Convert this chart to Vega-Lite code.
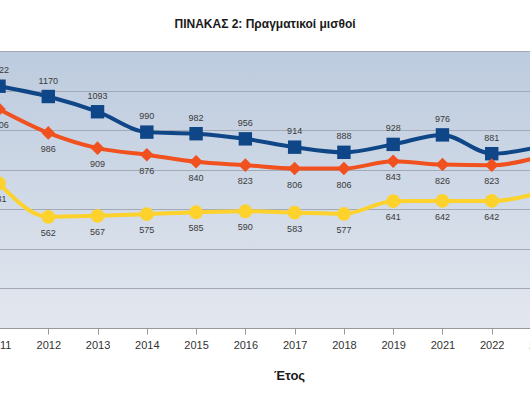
{
  "$schema": "https://vega.github.io/schema/vega-lite/v6.json",
  "width": 530,
  "height": 277,
  "autosize": {"type": "none"},
  "padding": {"left": 0, "top": 51, "right": 0, "bottom": 71},
  "background": "white",
  "title": {
    "text": "ΠΙΝΑΚΑΣ 2: Πραγματικοί μισθοί",
    "font": "Liberation Sans",
    "fontSize": 12,
    "fontWeight": "bold",
    "color": "#1a1a1a",
    "anchor": "middle",
    "offset": 20
  },
  "config": {
    "view": {
      "stroke": null,
      "fill": {
        "gradient": "linear",
        "x1": 0, "y1": 0, "x2": 0, "y2": 1,
        "stops": [
          {"offset": 0, "color": "#bccbde"},
          {"offset": 1, "color": "#e3e7ef"}
        ]
      }
    },
    "font": "Liberation Sans"
  },
  "data": {
    "values": [
      {"Year": "2011", "Series": "Μέσος", "Value": 1222},
      {"Year": "2012", "Series": "Μέσος", "Value": 1170},
      {"Year": "2013", "Series": "Μέσος", "Value": 1093},
      {"Year": "2014", "Series": "Μέσος", "Value": 990},
      {"Year": "2015", "Series": "Μέσος", "Value": 982},
      {"Year": "2016", "Series": "Μέσος", "Value": 956},
      {"Year": "2017", "Series": "Μέσος", "Value": 914},
      {"Year": "2018", "Series": "Μέσος", "Value": 888},
      {"Year": "2019", "Series": "Μέσος", "Value": 928},
      {"Year": "2021", "Series": "Μέσος", "Value": 976},
      {"Year": "2022", "Series": "Μέσος", "Value": 881},
      {"Year": "2023", "Series": "Μέσος", "Value": 918},
      {"Year": "2011", "Series": "Διάμεσος", "Value": 1106},
      {"Year": "2012", "Series": "Διάμεσος", "Value": 986},
      {"Year": "2013", "Series": "Διάμεσος", "Value": 909},
      {"Year": "2014", "Series": "Διάμεσος", "Value": 876},
      {"Year": "2015", "Series": "Διάμεσος", "Value": 840},
      {"Year": "2016", "Series": "Διάμεσος", "Value": 823},
      {"Year": "2017", "Series": "Διάμεσος", "Value": 806},
      {"Year": "2018", "Series": "Διάμεσος", "Value": 806},
      {"Year": "2019", "Series": "Διάμεσος", "Value": 843},
      {"Year": "2021", "Series": "Διάμεσος", "Value": 826},
      {"Year": "2022", "Series": "Διάμεσος", "Value": 823},
      {"Year": "2023", "Series": "Διάμεσος", "Value": 866},
      {"Year": "2011", "Series": "Κατώτατος", "Value": 731},
      {"Year": "2012", "Series": "Κατώτατος", "Value": 562},
      {"Year": "2013", "Series": "Κατώτατος", "Value": 567},
      {"Year": "2014", "Series": "Κατώτατος", "Value": 575},
      {"Year": "2015", "Series": "Κατώτατος", "Value": 585},
      {"Year": "2016", "Series": "Κατώτατος", "Value": 590},
      {"Year": "2017", "Series": "Κατώτατος", "Value": 583},
      {"Year": "2018", "Series": "Κατώτατος", "Value": 577},
      {"Year": "2019", "Series": "Κατώτατος", "Value": 641},
      {"Year": "2021", "Series": "Κατώτατος", "Value": 642},
      {"Year": "2022", "Series": "Κατώτατος", "Value": 642},
      {"Year": "2023", "Series": "Κατώτατος", "Value": 686}
    ]
  },
  "encoding": {
    "x": {
      "field": "Year",
      "type": "ordinal",
      "sort": null,
      "scale": {"type": "point", "range": [-1, 541], "padding": 0},
      "axis": {
        "title": "Έτος",
        "titleFont": "Liberation Sans",
        "titleFontSize": 13,
        "titleFontWeight": "bold",
        "titleColor": "#1a1a1a",
        "titleX": 289,
        "titleY": 47,
        "titleBaseline": "middle",
        "titleAlign": "center",
        "labelAngle": 0,
        "labelFontSize": 11,
        "labelColor": "#333333",
        "labelPadding": 5,
        "labelOverlap": false,
        "labelBound": false,
        "labelFlush": false,
        "tickSize": 6,
        "tickColor": "#999999",
        "domainColor": "#999999",
        "grid": false
      }
    },
    "y": {
      "field": "Value",
      "type": "quantitative",
      "scale": {"domain": [0, 1400], "nice": false},
      "axis": {
        "title": null,
        "labels": false,
        "ticks": false,
        "domain": false,
        "values": [200, 400, 600, 800, 1000, 1200, 1400],
        "grid": true,
        "gridColor": "#a3aab5",
        "gridWidth": 1
      }
    },
    "color": {
      "field": "Series",
      "type": "nominal",
      "legend": null,
      "scale": {
        "domain": ["Μέσος", "Διάμεσος", "Κατώτατος"],
        "range": ["#0f4687", "#f0511f", "#fdd22c"]
      }
    }
  },
  "layer": [
    {
      "mark": {"type": "line", "strokeWidth": 4, "interpolate": "monotone", "clip": true}
    },
    {
      "mark": {"type": "point", "filled": true, "opacity": 1, "clip": true},
      "encoding": {
        "shape": {
          "field": "Series",
          "type": "nominal",
          "legend": null,
          "scale": {
            "domain": ["Μέσος", "Διάμεσος", "Κατώτατος"],
            "range": ["square", "diamond", "circle"]
          }
        },
        "size": {
          "field": "Series",
          "type": "nominal",
          "legend": null,
          "scale": {
            "domain": ["Μέσος", "Διάμεσος", "Κατώτατος"],
            "range": [180, 190, 120]
          }
        }
      }
    },
    {
      "transform": [{"filter": "datum.Series === 'Μέσος'"}],
      "mark": {"type": "text", "dy": -16, "fontSize": 9, "color": "#3a3a3a", "clip": true},
      "encoding": {
        "text": {"field": "Value", "type": "quantitative"},
        "color": {"value": "#3a3a3a"}
      }
    },
    {
      "transform": [{"filter": "datum.Series !== 'Μέσος'"}],
      "mark": {"type": "text", "dy": 16, "fontSize": 9, "color": "#3a3a3a", "clip": true},
      "encoding": {
        "text": {"field": "Value", "type": "quantitative"},
        "color": {"value": "#3a3a3a"}
      }
    }
  ]
}
